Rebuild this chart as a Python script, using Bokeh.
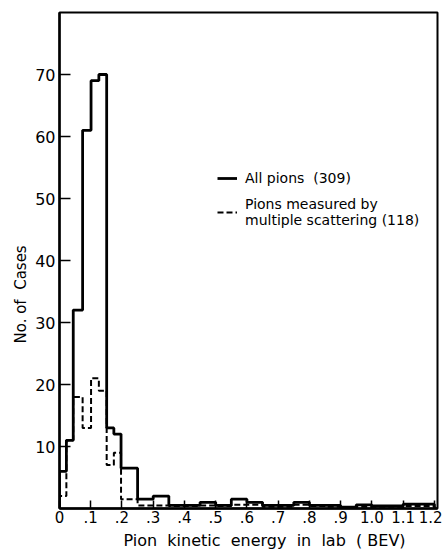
from bokeh.plotting import figure
from bokeh.models import Range1d, FixedTicker, Legend, LegendItem, Title
from bokeh.embed import file_html
from bokeh.resources import INLINE

# ---- data (bin edges in BEV, heights in cases) ----
bin_edges = [0.0, 0.022, 0.044, 0.074, 0.101, 0.126, 0.151, 0.174, 0.197,
             0.25, 0.30, 0.35, 0.40, 0.45, 0.50, 0.55, 0.60, 0.65, 0.70,
             0.75, 0.80, 0.85, 0.90, 0.95, 1.00, 1.05, 1.10, 1.15, 1.20]
all_pions = [6, 11, 32, 61, 69, 70, 13, 12,
             6.5, 1.5, 2, 0.5, 0.5, 1, 0.5, 1.5, 1, 0.5, 0.5,
             1, 0.5, 0.5, 0.2, 0.6, 0.4, 0.4, 0.7, 0.7]
mult_scatt = [2, 11, 18, 13, 21, 19, 7, 9,
              1.5, 0.5, 0.5, 0.4, 0.4, 0.5, 0.4, 0.6, 0.6, 0.3, 0.3,
              0.6, 0.4, 0.3, 0.1, 0.3, 0.3, 0.3, 0.4, 0.4]
x_ticks = [0, 0.1, 0.2, 0.3, 0.4, 0.5, 0.6, 0.7, 0.8, 0.9, 1.0, 1.1, 1.2]
x_tick_labels = ["0", ".1", ".2", ".3", ".4", ".5", ".6", ".7", ".8", ".9",
                 "1.0", "1.1", "1.2"]
y_ticks = [10, 20, 30, 40, 50, 60, 70]
NB = "\u00a0"
label_all = "All pions " + NB + "(309)"
label_ms = "Pions measured by\nmultiple scattering (118)"
x_title = (" " + NB).join(["Pion", "kinetic", "energy", "in", "lab", "( BEV)"])
y_title = "No. of" + NB + " Cases"

FONT = "DejaVu Sans"


def step_path(edges, vals):
    xs, ys = [edges[0]], [0]
    for i, v in enumerate(vals):
        xs += [edges[i], edges[i + 1]]
        ys += [v, v]
    xs.append(edges[-1])
    ys.append(0)
    return xs, ys


p = figure(width=442, height=552, output_backend="svg", toolbar_location=None,
           x_range=Range1d(0, 1.21), y_range=Range1d(0, 80),
           min_border_left=59, min_border_right=5, min_border_top=12,
           min_border_bottom=42)
p.grid.visible = False
p.outline_line_color = "black"
p.outline_line_width = 2
p.background_fill_color = "white"
p.border_fill_color = "white"

xs, ys = step_path(bin_edges, all_pions)
r_all = p.line(xs, ys, line_color="black", line_width=2.8)
xs2, ys2 = step_path(bin_edges, mult_scatt)
r_ms = p.line(xs2, ys2, line_color="black", line_width=2, line_dash="6 3")

for ax in (p.xaxis[0], p.yaxis[0]):
    ax.axis_line_width = 2.4
    ax.axis_line_color = "black"
    ax.major_tick_line_color = "black"
    ax.major_tick_line_width = 1.5
    ax.minor_tick_line_color = None
    ax.major_tick_out = 0
    ax.major_label_text_font = FONT
    ax.major_label_text_color = "black"

p.xaxis.ticker = FixedTicker(ticks=x_ticks)
p.xaxis.major_label_overrides = {t: s for t, s in zip(x_ticks, x_tick_labels)}
p.xaxis.major_tick_in = 8
p.xaxis.major_label_standoff = 2
p.xaxis.major_label_text_font_size = "15px"
p.yaxis.ticker = FixedTicker(ticks=y_ticks)
p.yaxis.major_tick_in = 11
p.yaxis.major_label_standoff = 4
p.yaxis.major_label_text_font_size = "16px"

p.add_layout(Title(text=x_title, align="left", offset=64, text_font=FONT,
                   text_font_size="16px", text_font_style="normal",
                   text_color="black", standoff=6), "below")
p.add_layout(Title(text=y_title, align="left", offset=165, text_font=FONT,
                   text_font_size="15px", text_font_style="normal",
                   text_color="black", standoff=6), "left")

legend = Legend(items=[LegendItem(label=label_all, renderers=[r_all]),
                       LegendItem(label=label_ms, renderers=[r_ms])],
                location=(158, 280), border_line_color=None,
                background_fill_alpha=0, label_text_font=FONT,
                label_text_font_size="14px", label_text_color="black",
                glyph_width=20, spacing=8, padding=0, margin=0,
                label_standoff=8, label_text_line_height=1.1)
p.add_layout(legend)

open("out.html", "w").write(file_html(p, INLINE))
